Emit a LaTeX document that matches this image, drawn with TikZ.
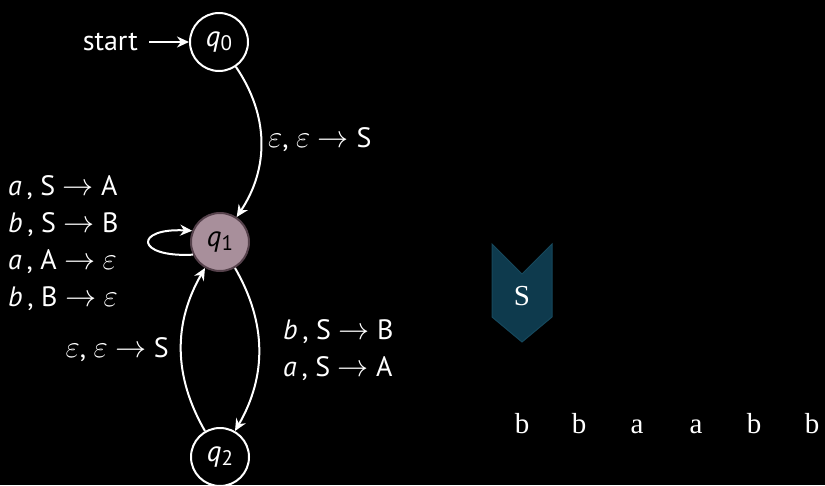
\documentclass[tikz,border=0pt]{standalone}
\usepackage{fontspec}
\setmainfont{PT Sans}
\newfontfamily\tapefont{Liberation Serif}
\usetikzlibrary{arrows.meta}
\definecolor{qfill}{RGB}{168,143,155}
\definecolor{qborder}{RGB}{85,65,75}
\definecolor{stackfill}{RGB}{14,58,77}
\definecolor{stackborder}{RGB}{22,72,92}
\newcommand{\mthx}[1]{\scalebox{1.5}{\fontsize{20.74}{24}\selectfont$#1$}}
\newcommand{\arr}{\mthx{\rightarrow}}
\newcommand{\eps}{\mthx{\varepsilon}}
\begin{document}
\begin{tikzpicture}[x=1pt,y=1pt,
  lab/.style={text=white,font=\fontsize{28}{37}\selectfont,inner sep=0pt},
  st/.style={circle,draw=white,line width=2pt,minimum size=58pt,inner sep=0pt,text=white,font=\fontsize{29}{30}\selectfont},
  stactive/.style={st,fill=qfill,draw=qborder,text=black},
  edge/.style={draw=white,line width=2pt,-{Stealth[length=12pt,width=11pt]}},
  tape/.style={text=white,font=\tapefont\fontsize{29}{32}\selectfont,inner sep=0pt}]
\fill[black] (0,0) rectangle (825,-485);
\useasboundingbox (0,0) rectangle (825,-485);

\newcommand{\qq}[1]{\textit{q}\raisebox{-0.3ex}{\fontsize{21}{22}\selectfont #1}}
\node[st] (q0) at (219,-42) {\qq{0}};
\node[stactive] (q1) at (220,-242) {\qq{1}};
\node[st] (q2) at (220,-457) {\qq{2}};

\node[lab,anchor=east] (start) at (138,-42) {start};
\draw[edge,shorten <=11pt] (start) -- (q0);

\draw[edge] (q0) to[bend left=34] (q1);
\node[lab,anchor=west] (l01) at (268,-140) {\eps, \eps\ \arr\ S};

\draw[edge] (q1) to[bend left=30] (q2);
\node[lab,anchor=west,align=left] (l12) at (283,-350) {\textit{b}\,, S \arr\ B\\\textit{a}\,, S \arr\ A};

\draw[edge] (q2) to[bend left=30] (q1);
\node[lab,anchor=east] (l21) at (169,-350) {\eps, \eps\ \arr\ S};

\draw[edge] (q1.205) .. controls +(-58,-3) and +(-58,3) .. (q1.158);
\node[lab,anchor=west,align=left] (lloop) at (8,-243) {\textit{a}\,, S \arr\ A\\\textit{b}\,, S \arr\ B\\\textit{a}\,, A \arr\ \eps\\\textit{b}\,, B \arr\ \eps};

\draw[fill=stackfill,draw=stackborder,line width=1pt] (492,-244) -- (522,-274) -- (552,-244) -- (552,-317) -- (522,-342) -- (492,-317) -- cycle;
\node[tape] (s) at (522,-296) {S};

\foreach \x/\c [count=\i] in {522/b,579/b,637/a,696/a,754/b,812/b}
  \node[tape,anchor=base] (t\i) at (\x,-433) {\c};
\end{tikzpicture}
\end{document}
